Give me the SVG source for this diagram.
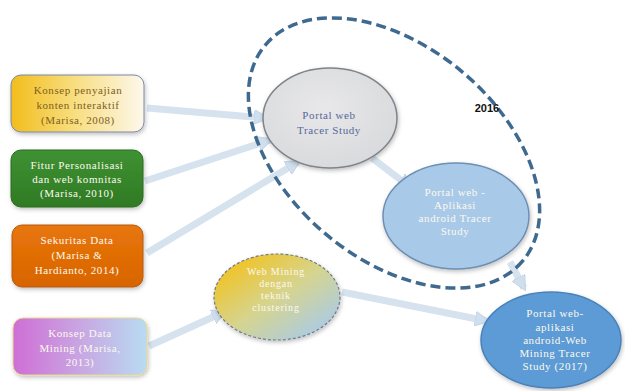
<svg xmlns="http://www.w3.org/2000/svg" width="625" height="391" viewBox="0 0 625 391">
<defs>
  <linearGradient id="gYellow" x1="0" y1="0" x2="1" y2="0">
    <stop offset="0" stop-color="#f2bd1c"/>
    <stop offset="0.45" stop-color="#f8dc7a"/>
    <stop offset="1" stop-color="#fdf8ec"/>
  </linearGradient>
  <linearGradient id="gGreen" x1="0" y1="0" x2="0" y2="1">
    <stop offset="0" stop-color="#3f9232"/>
    <stop offset="1" stop-color="#2f7a24"/>
  </linearGradient>
  <linearGradient id="gOrange" x1="0" y1="0" x2="0" y2="1">
    <stop offset="0" stop-color="#e8760a"/>
    <stop offset="1" stop-color="#d86400"/>
  </linearGradient>
  <linearGradient id="gPink" x1="0" y1="0" x2="1" y2="0">
    <stop offset="0" stop-color="#cf6ed6"/>
    <stop offset="0.5" stop-color="#c8a6e2"/>
    <stop offset="1" stop-color="#b8dcf2"/>
  </linearGradient>
  <linearGradient id="gMining" x1="0" y1="0" x2="1" y2="1">
    <stop offset="0.1" stop-color="#f2c21e"/>
    <stop offset="0.5" stop-color="#d6d48e"/>
    <stop offset="0.9" stop-color="#a9cbe8"/>
  </linearGradient>
  <radialGradient id="gGray" cx="0.45" cy="0.4" r="0.65">
    <stop offset="0" stop-color="#e8e8ea"/>
    <stop offset="1" stop-color="#d8d9dc"/>
  </radialGradient>
  <filter id="sh" x="-20%" y="-20%" width="140%" height="150%">
    <feDropShadow dx="1" dy="2" stdDeviation="2" flood-color="#000" flood-opacity="0.25"/>
  </filter>
  <marker id="ah" viewBox="0 0 10 10" refX="8" refY="5" markerUnits="userSpaceOnUse" markerWidth="15" markerHeight="15" orient="auto">
    <path d="M0,0 L10,5 L0,10 Z" fill="#d0dfed" stroke="#bccfe1" stroke-width="0.5"/>
  </marker>
</defs>
<style>
  .conn { stroke: #d6e3ef; stroke-width: 7; fill: none; marker-end: url(#ah); }
  .box { stroke-width: 1; filter: url(#sh); }
  .t { font-family: "Liberation Serif", "Times New Roman", serif; font-size: 11px; text-anchor: middle; letter-spacing: 0.6px; }
  .s { font-size: 10px; letter-spacing: 0.8px; }
  .w { fill: #fdf9ee; }
</style>
<rect width="625" height="391" fill="#ffffff"/>

<g id="connectors">
  <line class="conn" x1="147" y1="108" x2="266" y2="118"/>
  <line class="conn" x1="145" y1="181" x2="270" y2="140"/>
  <line class="conn" x1="147" y1="253" x2="298" y2="162"/>
  <line class="conn" x1="149" y1="346" x2="224" y2="312"/>
  <line class="conn" x1="372" y1="158" x2="410" y2="187"/>
  <line class="conn" x1="510" y1="262" x2="524" y2="288"/>
  <line class="conn" x1="342" y1="292" x2="487" y2="321"/>
</g>

<g id="group-2016">
  <ellipse cx="394" cy="153" rx="168" ry="106" transform="rotate(40 394 153)" fill="none" stroke="#3f6a8f" stroke-width="3.5" stroke-dasharray="10 5"/>
  <text x="487" y="112" font-family="Liberation Sans, Arial, sans-serif" font-size="11" font-weight="bold" fill="#111" text-anchor="middle">2016</text>
</g>

<g id="n-konsep-penyajian">
  <rect class="box" x="11" y="75" width="133" height="57" rx="10" fill="url(#gYellow)" stroke="#7b88a8"/>
  <text class="t" fill="#7d6020"><tspan x="78" y="94">Konsep penyajian</tspan><tspan x="78" y="109">konten interaktif</tspan><tspan x="78" y="124">(Marisa, 2008)</tspan></text>
</g>

<g id="n-fitur">
  <rect class="box" x="11" y="150" width="132" height="57" rx="10" fill="url(#gGreen)" stroke="#2c6a22"/>
  <text class="t w"><tspan x="77" y="169">Fitur Personalisasi</tspan><tspan x="77" y="183">dan web komnitas</tspan><tspan x="77" y="197">(Marisa, 2010)</tspan></text>
</g>

<g id="n-sekuritas">
  <rect class="box" x="12" y="225" width="131" height="62" rx="10" fill="url(#gOrange)" stroke="#b45a10"/>
  <text class="t w"><tspan x="77" y="244">Sekuritas Data</tspan><tspan x="77" y="259">(Marisa &amp;</tspan><tspan x="77" y="274">Hardianto, 2014)</tspan></text>
</g>

<g id="n-datamining">
  <rect class="box" x="13" y="318" width="134" height="57" rx="10" fill="url(#gPink)" stroke="#e8d890"/>
  <text class="t w"><tspan x="80" y="337">Konsep Data</tspan><tspan x="80" y="352">Mining (Marisa,</tspan><tspan x="80" y="366">2013)</tspan></text>
</g>

<g id="n-portal">
  <ellipse cx="330" cy="118" rx="67" ry="50" fill="url(#gGray)" stroke="#7f8489" stroke-width="1.5" filter="url(#sh)"/>
  <text class="t" fill="#55689a"><tspan x="329" y="119">Portal web</tspan><tspan x="329" y="134">Tracer Study</tspan></text>
</g>

<g id="n-android">
  <ellipse cx="456" cy="216" rx="73" ry="53" fill="#a9c9e9" stroke="#6d8fb3" stroke-width="1.5" filter="url(#sh)"/>
  <text class="t w"><tspan x="455" y="196">Portal web -</tspan><tspan x="455" y="209">Aplikasi</tspan><tspan x="455" y="222">android Tracer</tspan><tspan x="455" y="235">Study</tspan></text>
</g>

<g id="n-webmining">
  <ellipse cx="277" cy="297" rx="63" ry="43" fill="url(#gMining)" stroke="#6e7c8c" stroke-width="1.2" stroke-dasharray="3 2" filter="url(#sh)"/>
  <text class="t s w"><tspan x="276" y="275">Web Mining</tspan><tspan x="276" y="287">dengan</tspan><tspan x="276" y="299">teknik</tspan><tspan x="276" y="311">clustering</tspan></text>
</g>

<g id="n-final">
  <ellipse cx="551" cy="340" rx="70" ry="48" fill="#5b9bd5" stroke="#4a82b8" stroke-width="1.5" filter="url(#sh)"/>
  <text class="t w"><tspan x="555" y="317">Portal web-</tspan><tspan x="555" y="331">aplikasi</tspan><tspan x="555" y="344">android-Web</tspan><tspan x="555" y="357">Mining Tracer</tspan><tspan x="555" y="370">Study (2017)</tspan></text>
</g>
</svg>
